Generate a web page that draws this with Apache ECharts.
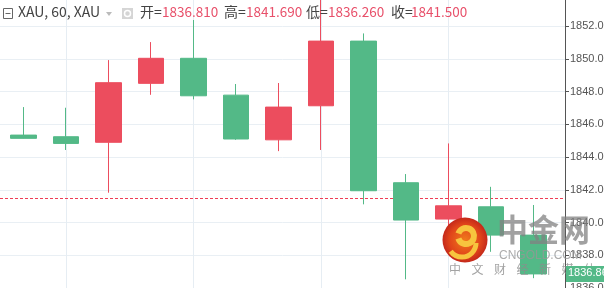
<!DOCTYPE html>
<html><head><meta charset="utf-8">
<script src="https://cdn.jsdelivr.net/npm/echarts@6/dist/echarts.min.js"></script>
<style>html,body{margin:0;padding:0;background:#fff}#c{width:604px;height:288px}</style>
</head><body><div id="c"></div>
<script>
// Data
const categories = ['1','2','3','4','5','6','7','8','9','10','11','12','13'];
const opens  = [1845.34,1845.24,1844.90,1848.50,1850.03,1847.78,1845.05,1847.13,1851.08,1842.43,1840.21,1840.96,1839.23];
const closes = [1845.14,1844.83,1848.54,1850.03,1847.74,1845.10,1847.05,1851.08,1841.94,1840.15,1841.02,1839.23,1836.86];
const lows   = [1845.13,1844.43,1841.82,1847.80,1847.52,1845.05,1844.36,1844.43,1841.11,1836.53,1838.60,1838.21,1836.60];
const highs  = [1847.05,1847.01,1849.92,1851.02,1852.37,1848.46,1848.52,1853.80,1851.55,1842.96,1844.83,1842.18,1841.07];
const lastPrice = 1836.86;
const refLine = 1841.5;
const markerValue = 1849.25;
const header = {name:'XAU, 60, XAU', open:'1836.810', high:'1841.690', low:'1836.260', close:'1841.500'};
const wmSub = ['中','文','财','经','新','媒','体'];

const RED = '#ec4d5e', GREEN = '#53b987';
const ohlc = categories.map((c,i)=>[opens[i], closes[i], lows[i], highs[i]]);
const FONT = '"Noto Sans CJK SC","Noto Sans",sans-serif';
const NUMFONT = '"Liberation Sans",Arial,sans-serif';

const chart = echarts.init(document.getElementById('c'), null, {renderer:'canvas'});
const yCommon = {min:1836, max:1854, interval:2};

const graphics = [];
graphics.push({type:'rect', shape:{x:3.5,y:8.5,width:9,height:10}, style:{fill:'#fff', stroke:'#666', lineWidth:1}, z:100});
graphics.push({type:'line', shape:{x1:5.5,y1:13.5,x2:10.5,y2:13.5}, style:{stroke:'#666', lineWidth:1}, z:100});
graphics.push({type:'text', left:18, top:5, style:{text:header.name, font:'14px '+FONT, fill:'#444'}, z:100});
graphics.push({type:'polygon', shape:{points:[[106,12],[112,12],[109,16]]}, style:{fill:'#bbb'}, z:100});
graphics.push({type:'rect', shape:{x:122,y:8,width:11,height:11}, style:{fill:'#d5d5d5'}, z:100});
graphics.push({type:'circle', shape:{cx:127.5,cy:13.5,r:3}, style:{fill:'none', stroke:'#fff', lineWidth:1.5}, z:100});
const hdr = [['开=',140,header.open,162],['高=',224,header.high,246],['低=',306,header.low,328],['收=',391,header.close,411]];
hdr.forEach(h=>{
  graphics.push({type:'text', left:h[1], top:5, style:{text:h[0], font:'14px '+FONT, fill:'#444'}, z:100});
  graphics.push({type:'text', left:h[3], top:5.5, style:{text:h[2], font:'13.5px '+FONT, fill:'#e8506a'}, z:100});
});
graphics.push({type:'circle', shape:{cx:465,cy:240,r:22.5}, style:{fill:{type:'radial',x:0.5,y:0.5,r:0.5,colorStops:[{offset:0,color:'#f07a1c'},{offset:0.7,color:'#e0441a'},{offset:1,color:'#c4281a'}]}}, z:90});
graphics.push({type:'arc', shape:{cx:466,cy:236,r:8,startAngle:-Math.PI*0.9,endAngle:Math.PI*0.9}, style:{stroke:'#f7c43e', lineWidth:6, fill:'none'}, z:91});
graphics.push({type:'arc', shape:{cx:462,cy:243,r:14,startAngle:0,endAngle:Math.PI*0.8}, style:{stroke:'#f7c43e', lineWidth:5, fill:'none'}, z:91});
graphics.push({type:'text', left:497, top:214, style:{text:'中金网', font:'bold 31px '+FONT, fill:'rgba(130,130,130,0.75)'}, z:90});
graphics.push({type:'text', left:499, top:250, style:{text:'CNGOLD.COM', font:'12px '+NUMFONT, fill:'rgba(150,150,150,0.8)'}, z:90});
wmSub.forEach((t,i)=>{
  graphics.push({type:'text', left:449+i*22.5, top:263, style:{text:t, font:'12px '+FONT, fill:'rgba(140,140,140,0.8)'}, z:90});
});

chart.setOption({
  animation:false,
  backgroundColor:'#fff',
  grid:[
    {left:0, right:39, top:-6.7, height:294.7, outerBoundsMode:'none', containLabel:false},
    {left:2.45, width:552.5, top:-6.7, height:294.7, outerBoundsMode:'none', containLabel:false}
  ],
  xAxis:[
    {type:'value', gridIndex:0, min:0, max:1, show:false},
    {type:'category', gridIndex:1, data:categories, boundaryGap:true, show:false}
  ],
  yAxis:[
    Object.assign({type:'value', gridIndex:0, position:'right', scale:true,
      axisLine:{show:true, onZero:false, lineStyle:{color:'#555', width:1}},
      axisTick:{show:true, length:4, lineStyle:{color:'#555'}},
      axisLabel:{color:'#555', fontSize:11, fontFamily:NUMFONT, margin:5, formatter:v=>v.toFixed(2), showMinLabel:true, showMaxLabel:false},
      splitLine:{show:true, lineStyle:{color:'#e9eff4', width:1}}
    }, yCommon),
    Object.assign({type:'value', gridIndex:1, scale:true, show:false, axisLine:{onZero:false}, splitLine:{show:false}}, yCommon)
  ],
  graphic:graphics,
  series:[
    {type:'line', xAxisIndex:0, yAxisIndex:0, data:[], silent:true,
      markLine:{symbol:'none', silent:true, animation:false, data:[
        {yAxis:refLine, lineStyle:{color:'#ef3d55', type:[3,2], width:1}, label:{show:false}}
      ]}
    },
    {type:'candlestick', xAxisIndex:1, yAxisIndex:1, data:ohlc, barWidth:26, z:5,
      itemStyle:{color:RED, color0:GREEN, borderColor:RED, borderColor0:GREEN, borderWidth:1},
      markLine:{symbol:'none', silent:true, animation:false, z:1, lineStyle:{color:'#e6edf3', type:'solid', width:1}, label:{show:false},
        data:[{xAxis:1},{xAxis:4},{xAxis:7},{xAxis:10}]},
      markPoint:{silent:true, animation:false, data:[{coord:[3, markerValue], symbol:'circle', symbolSize:8, itemStyle:{color:'#c8c8c8', borderColor:'#fff', borderWidth:1.5}, label:{show:false}}]}
    }
  ]
});

// last price tag on the axis, positioned through the axis scale
const py = chart.convertToPixel({yAxisIndex:0}, lastPrice);
const gl = graphics.slice();
gl.push({type:'rect', shape:{x:566, y:py-8, width:40, height:16}, style:{fill:GREEN}, z:120});
gl.push({type:'text', left:568, top:py-6.5, style:{text:lastPrice.toFixed(2), font:'11px '+NUMFONT, fill:'#fff'}, z:121});
chart.setOption({graphic:gl}, {replaceMerge:['graphic']});
</script></body></html>
